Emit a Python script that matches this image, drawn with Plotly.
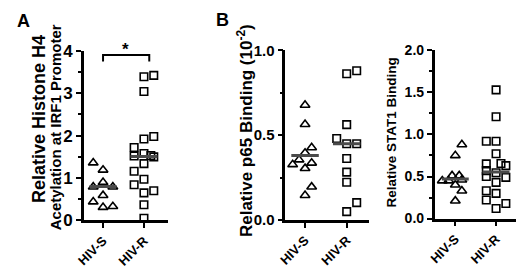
import plotly.graph_objects as go

W, H = 520, 269

# ---------------- data ----------------
groups = ["HIV-S", "HIV-R"]

# Panel A: Relative histone H4 acetylation at IRF1 promoter
a_s_vals = [1.36, 1.19, 0.90, 0.79, 0.79, 0.59, 0.44, 0.31, 0.33]
a_s_slot = [-1, 0, 0, -1, 1, 0, -1, 0, 1]
a_r_vals = [3.39, 3.42, 3.04, 1.92, 1.98, 1.72, 1.52, 1.58, 1.53, 1.50,
            1.34, 1.16, 0.97, 0.84, 0.65, 0.70, 0.37, 0.05]
a_r_slot = [0, 1, 0, 0, 1, -1, -1, 0, 0.7, 1, 0, -1, 0, -1, 0, 1, 0, 0]
a_medians = [0.80, 1.51]

# Panel B: Relative p65 binding (10^-2)
b_s_vals = [0.677, 0.564, 0.427, 0.395, 0.355, 0.327, 0.336, 0.304, 0.195, 0.145]
b_s_slot = [0, 0, 0.66, 0, -0.6, -1.24, 0.66, 0, 0.66, 0]
b_r_vals = [0.862, 0.880, 0.562, 0.480, 0.449, 0.449, 0.362, 0.282, 0.222, 0.102, 0.049]
b_r_slot = [0, 1, 0, -1, 0, 1, 0, 0, 0, 1, 0]
b_medians = [0.38, 0.45]

# Panel C: Relative STAT1 binding
c_s_vals = [0.88, 0.75, 0.51, 0.51, 0.45, 0.46, 0.45, 0.40, 0.33, 0.21]
c_s_slot = [0.67, 0, -0.33, 0.4, -1.33, 0.67, -0.67, 0, 0.67, 0]
c_r_vals = [1.53, 1.21, 0.92, 0.92, 0.77, 0.65, 0.655, 0.63, 0.57, 0.545,
            0.50, 0.49, 0.43, 0.33, 0.30, 0.22, 0.18, 0.12]
c_r_slot = [0, 0, -1, 0, 0, -1, 0.5, 1, -1, 0, -1, 1, 0, -1, 0, -1, 1, 0]
c_medians = [0.47, 0.555]

a_ticks = [0, 1, 2, 3, 4]
b_ticks = [0.0, 0.5, 1.0]
c_ticks = [0.0, 0.5, 1.0, 1.5, 2.0]

# ---------------- layout helpers ----------------
FONT = "Arial, Liberation Sans, sans-serif"
SLOT = 0.24          # width of one jitter column in category units
MED_HALF = 0.33      # half width of the median bar


def px(x):
    return x / W


def py(y):
    return 1 - y / H


panels = [
    dict(xa="x", ya="y", xd=(77, 163), yd=(45, 227.5), xr=(-0.47, 1.60), yr=(0, 4),
         ticks=a_ticks, minor=0.5, fs=17, fmt="d",
         s=(a_s_vals, a_s_slot), r=(a_r_vals, a_r_slot), med=a_medians),
    dict(xa="x2", ya="y2", xd=(281.7, 366.7), yd=(44.5, 227), xr=(-0.473, 1.537), yr=(0, 1),
         ticks=b_ticks, minor=0.25, fs=15, fmt=".1f",
         s=(b_s_vals, b_s_slot), r=(b_r_vals, b_r_slot), med=b_medians),
    dict(xa="x3", ya="y3", xd=(433.3, 515.7), yd=(44.5, 225.5), xr=(-0.507, 1.483), yr=(0, 2),
         ticks=c_ticks, minor=0.25, fs=14, fmt=".1f",
         s=(c_s_vals, c_s_slot), r=(c_r_vals, c_r_slot), med=c_medians),
]

fig = go.Figure()
layout = dict(
    width=W, height=H, autosize=False,
    margin=dict(l=0, r=0, t=0, b=0),
    paper_bgcolor="white", plot_bgcolor="white",
    showlegend=False, font=dict(family=FONT, color="black"),
)

for p in panels:
    sv, ss = p["s"]
    rv, rs = p["r"]
    fig.add_trace(go.Scatter(
        x=[0 + k * SLOT for k in ss], y=sv, mode="markers",
        xaxis=p["xa"], yaxis=p["ya"], cliponaxis=False,
        marker=dict(symbol="triangle-up-open", size=8.5, color="black",
                    line=dict(width=1.6, color="black")),
    ))
    fig.add_trace(go.Scatter(
        x=[1 + k * SLOT for k in rs], y=rv, mode="markers",
        xaxis=p["xa"], yaxis=p["ya"], cliponaxis=False,
        marker=dict(symbol="square-open", size=7.5, color="black",
                    line=dict(width=1.6, color="black")),
    ))
    for i, m in enumerate(p["med"]):
        fig.add_trace(go.Scatter(
            x=[i - MED_HALF, i + MED_HALF], y=[m, m], mode="lines",
            xaxis=p["xa"], yaxis=p["ya"], cliponaxis=False,
            line=dict(color="#4a4a4a", width=3),
        ))

    xkey = "xaxis" + p["xa"][1:]
    ykey = "yaxis" + p["ya"][1:]
    layout[xkey] = dict(
        domain=[px(p["xd"][0]), px(p["xd"][1])], range=list(p["xr"]),
        anchor=p["ya"], showgrid=False, zeroline=False,
        showline=True, linecolor="black", linewidth=2.5,
        tickmode="array", tickvals=[0, 1], ticktext=groups,
        ticks="outside", ticklen=5, tickwidth=2, tickcolor="black",
        tickangle=-45, tickfont=dict(size=13, family=FONT, weight="bold"),
        fixedrange=True,
    )
    layout[ykey] = dict(
        domain=[py(p["yd"][1]), py(p["yd"][0])], range=list(p["yr"]),
        anchor=p["xa"], showgrid=False, zeroline=False,
        showline=True, linecolor="black", linewidth=2.5,
        tickmode="array", tickvals=p["ticks"], tickformat=p["fmt"],
        ticks="outside", ticklen=5, tickwidth=2, tickcolor="black",
        minor=dict(dtick=p["minor"], tick0=0, ticks="outside", ticklen=3,
                   tickwidth=1.5, tickcolor="black", showgrid=False),
        tickfont=dict(size=p["fs"], family=FONT, weight="bold"),
        fixedrange=True,
    )

fig.update_layout(**layout)

# significance bracket in panel A
fig.add_shape(type="path", xref="x", yref="y",
              path="M 0,3.75 L 0,3.9 L 1.13,3.9 L 1.13,3.75",
              line=dict(color="black", width=2))
fig.add_annotation(x=px(119.5), y=py(44), xref="paper", yref="paper", text="<b>*</b>",
                   showarrow=False, xanchor="center", yanchor="middle",
                   font=dict(size=17, family=FONT, color="black"))

# axis titles and panel letters
ann = [
    dict(x=px(31), y=py(119), text="<b>Relative Histone H4</b>", size=18, angle=-90),
    dict(x=px(48), y=py(127), text="<b>Acetylation at IRF1 Promoter</b>", size=15, angle=-90),
    dict(x=px(240), y=py(131), text="<b>Relative p65 Binding (10<sup>-2</sup>)</b>", size=17, angle=-90),
    dict(x=px(390), y=py(133), text="<b>Relative STAT1 Binding</b>", size=13.5, angle=-90),
    dict(x=px(16), y=py(13), text="<b>A</b>", size=18, angle=0),
    dict(x=px(218), y=py(12), text="<b>B</b>", size=18, angle=0),
]
for a in ann:
    fig.add_annotation(x=a["x"], y=a["y"], xref="paper", yref="paper",
                       text=a["text"], textangle=a["angle"], showarrow=False,
                       xanchor="center", yanchor="middle",
                       font=dict(size=a["size"], family=FONT, color="black"))

fig.write_html("out.html", config={"displayModeBar": False},
               post_script="document.body.style.margin='0';document.body.style.overflow='hidden';")
